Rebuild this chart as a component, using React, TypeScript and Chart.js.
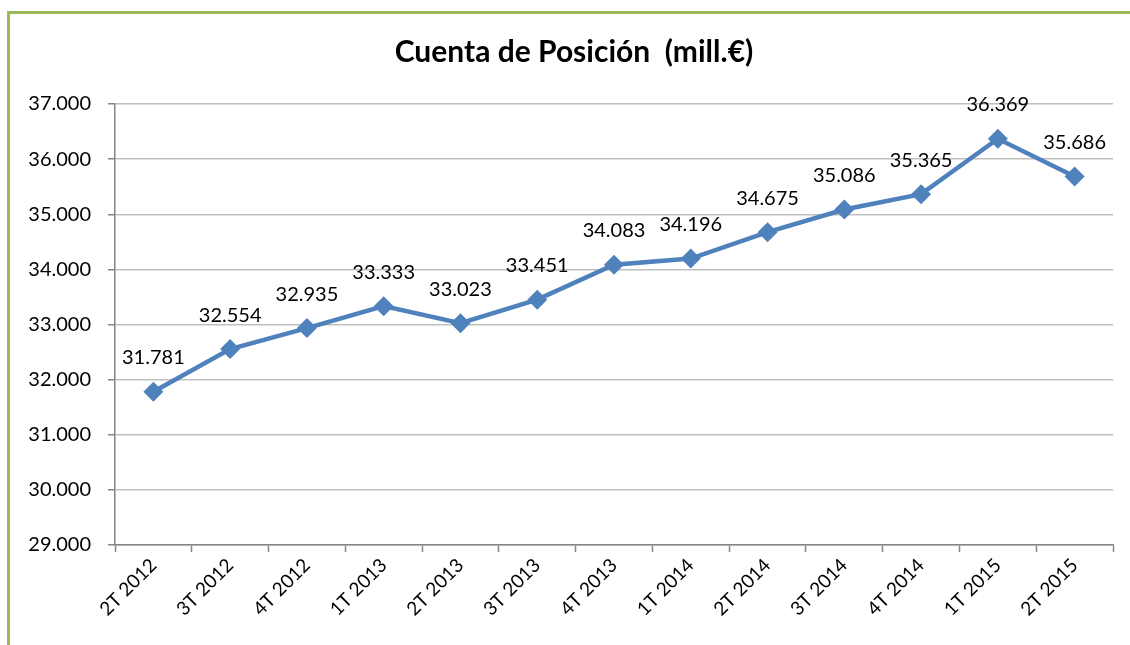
import React, { useEffect, useRef } from 'react';
import { Chart, registerables } from 'chart.js';

Chart.register(...registerables);

const categories = ['2T 2012', '3T 2012', '4T 2012', '1T 2013', '2T 2013', '3T 2013', '4T 2013', '1T 2014', '2T 2014', '3T 2014', '4T 2014', '1T 2015', '2T 2015'];
const values = [31781, 32554, 32935, 33333, 33023, 33451, 34083, 34196, 34675, 35086, 35365, 36369, 35686];
const yMin = 29000;
const yMax = 37000;
const yStep = 1000;
const titleText = 'Cuenta de Posición  (mill.€)';

const fmt = (v: number) => {
  const s = Math.round(v).toString();
  return s.replace(/\B(?=(\d{3})+(?!\d))/g, '.');
};

const FONT = 'Lato, "Open Sans", sans-serif';

const labelPlugin = {
  id: 'pointValueLabels',
  afterDatasetsDraw(chart: any) {
    const ctx = chart.ctx;
    const meta = chart.getDatasetMeta(0);
    ctx.save();
    ctx.font = `20px ${FONT}`;
    ctx.fillStyle = '#000';
    ctx.textAlign = 'center';
    ctx.textBaseline = 'middle';
    meta.data.forEach((pt: any, i: number) => {
      ctx.fillText(fmt(values[i]), pt.x, pt.y - 34);
    });
    ctx.restore();
  },
};

const titlePlugin = {
  id: 'customTitle',
  afterDraw(chart: any) {
    const ctx = chart.ctx;
    ctx.save();
    ctx.font = `bold 30px ${FONT}`;
    ctx.fillStyle = '#000';
    ctx.textAlign = 'center';
    ctx.textBaseline = 'middle';
    ctx.fillText(titleText, 574, 52);
    ctx.restore();
  },
};

export default function App() {
  const ref = useRef<HTMLCanvasElement>(null);
  useEffect(() => {
    if (!ref.current) return;
    const chart = new Chart(ref.current, {
      type: 'line',
      data: {
        labels: categories,
        datasets: [
          {
            data: values,
            borderColor: '#4F81BD',
            backgroundColor: '#4F81BD',
            borderWidth: 4.5,
            pointStyle: 'rectRot',
            pointRadius: 10,
            pointBorderWidth: 0,
            pointBackgroundColor: '#4F81BD',
            tension: 0,
          },
        ],
      },
      options: {
        responsive: false,
        animation: false,
        layout: { padding: { left: 0, right: 17, top: 104, bottom: 0 } },
        plugins: {
          legend: { display: false },
          tooltip: { enabled: false },
          title: { display: false },
        },
        scales: {
          x: {
            offset: true,
            grid: { drawOnChartArea: false, drawTicks: true, tickLength: 7, tickColor: '#868686', tickWidth: 1.5, offset: true },
            border: { display: true, color: '#868686', width: 1.5 },
            ticks: { color: '#000', font: { family: FONT, size: 19 }, minRotation: 45, maxRotation: 45, padding: 2, autoSkip: false },
            afterFit: (s: any) => { s.height = 100; },
          },
          y: {
            min: yMin,
            max: yMax,
            grid: { color: '#BFBFBF', lineWidth: 1.5, tickLength: 7, tickColor: '#868686', tickWidth: 1.5 },
            border: { display: true, color: '#868686', width: 1.5 },
            ticks: { stepSize: yStep, color: '#000', font: { family: FONT, size: 20 }, padding: 17, callback: (v: any) => fmt(Number(v)) },
            afterFit: (s: any) => { s.width = 115; },
          },
        },
      },
      plugins: [labelPlugin, titlePlugin],
    });
    return () => chart.destroy();
  }, []);

  return (
    <div style={{ position: 'fixed', left: 0, top: 0, width: 1130, height: 645, background: '#fff' }}>
      <div
        style={{
          position: 'absolute',
          left: 7,
          top: 11,
          width: 1123,
          height: 634,
          borderLeft: '3px solid #9BBB59',
          borderTop: '3px solid #9BBB59',
          boxSizing: 'border-box',
        }}
      />
      <canvas ref={ref} width={1130} height={645} style={{ position: 'absolute', left: 0, top: 0 }} />
    </div>
  );
}
